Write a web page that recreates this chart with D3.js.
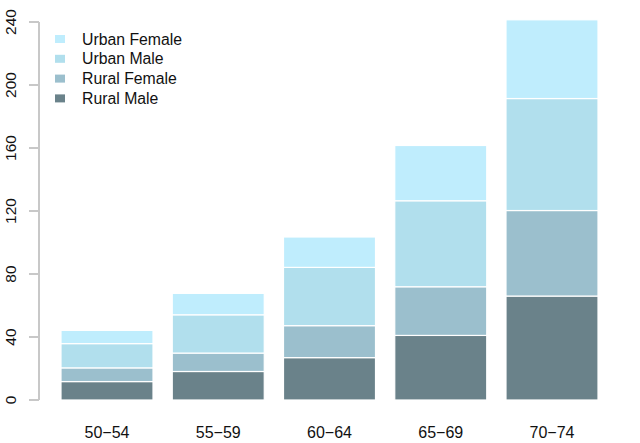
<!DOCTYPE html>
<html><head><meta charset="utf-8">
<script src="https://cdn.jsdelivr.net/npm/d3@7"></script>
<style>body{margin:0;background:#fff;} text{font-family:"Liberation Sans",Arial,sans-serif;}</style>
</head><body>
<svg id="c" width="640" height="443"></svg>
<script>
const categories = ["50−54","55−59","60−64","65−69","70−74"];
const seriesNames = ["Rural Male","Rural Female","Urban Male","Urban Female"];
const ruralMale = [11.7,18.1,26.9,41.0,66.0];
const ruralFemale = [8.7,11.7,20.3,30.9,54.3];
const urbanMale = [15.4,24.3,37.0,54.6,71.1];
const urbanFemale = [8.4,13.6,19.3,35.1,50.0];
const yTicks = [0,40,80,120,160,200,240];
const colors = ["#6a828a","#9bbfcd","#b1dfed","#bfedfd"];

const svg = d3.select("#c");
const rows = categories.map((c,i)=>({cat:c,"Rural Male":ruralMale[i],"Rural Female":ruralFemale[i],"Urban Male":urbanMale[i],"Urban Female":urbanFemale[i]}));
const stack = d3.stack().keys(seriesNames)(rows);

const x = d3.scaleBand().domain(categories).range([61,598]).paddingInner(0.173).paddingOuter(0);
const y = d3.scaleLinear().domain([0,240]).range([400,22]);
const color = d3.scaleOrdinal().domain(seriesNames).range(colors);

svg.append("g").selectAll("g").data(stack).join("g")
  .attr("fill",d=>color(d.key))
  .selectAll("rect").data(d=>d).join("rect")
  .attr("x",d=>x(d.data.cat)).attr("width",x.bandwidth())
  .attr("y",d=>y(d[1])).attr("height",d=>y(d[0])-y(d[1]))
  .attr("stroke","#fff").attr("stroke-width",1.2);

// y axis
const ax = svg.append("g");
ax.append("line").attr("x1",39).attr("x2",39).attr("y1",y(0)).attr("y2",y(240))
  .attr("stroke","#c8c8c8").attr("stroke-width",2);
ax.selectAll("line.t").data(yTicks).join("line").attr("class","t")
  .attr("x1",29).attr("x2",39).attr("y1",d=>y(d)).attr("y2",d=>y(d))
  .attr("stroke","#c8c8c8").attr("stroke-width",2);
ax.selectAll("text").data(yTicks).join("text")
  .attr("transform",d=>`translate(16,${y(d)}) rotate(-90)`)
  .attr("text-anchor","middle").attr("font-size",15.5).attr("fill","#111")
  .text(d=>d);

// x labels
svg.append("g").selectAll("text").data(categories).join("text")
  .attr("x",d=>x(d)+x.bandwidth()/2).attr("y",438)
  .attr("text-anchor","middle").attr("font-size",16).attr("fill","#111")
  .text(d=>d);

// legend
const legItems = seriesNames.slice().reverse();
const lg = svg.append("g");
legItems.forEach((k,i)=>{
  const cy = 39 + i*19.8;
  lg.append("rect").attr("x",55).attr("y",cy-4).attr("width",10).attr("height",8).attr("fill",color(k));
  lg.append("text").attr("x",82).attr("y",cy+5.5).attr("font-size",15.8).attr("fill","#111").text(k);
});
</script>
</body></html>
